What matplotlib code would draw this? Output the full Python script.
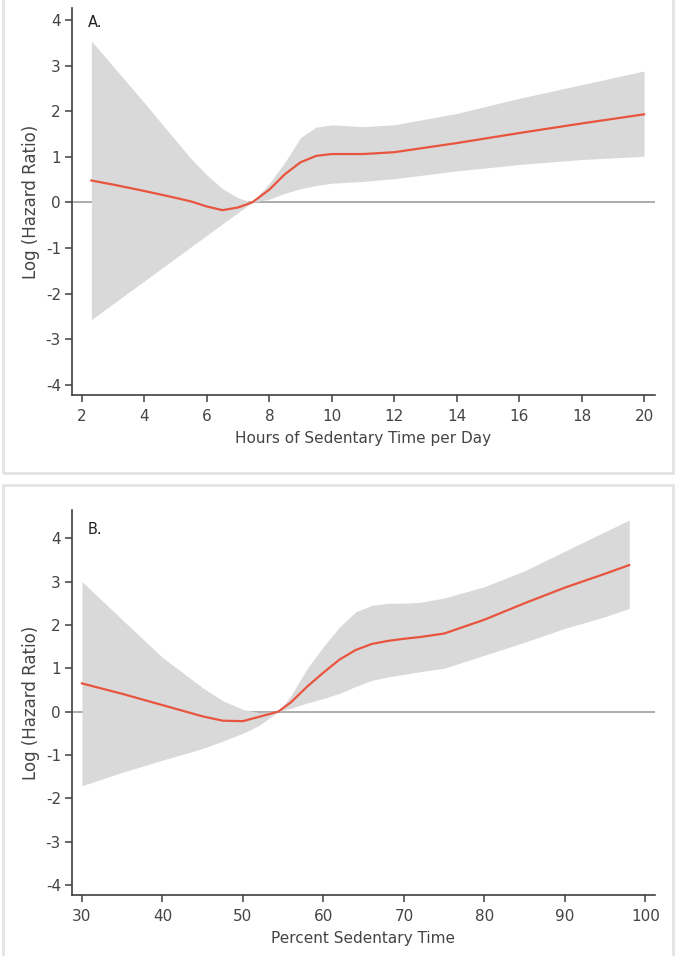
import matplotlib
matplotlib.use("Agg")
import matplotlib.pyplot as plt
from matplotlib.patches import Rectangle

plt.rcParams['axes.unicode_minus'] = False

# panel A: hours of sedentary time per day
hours = [2.3, 3, 4, 5, 5.5, 6, 6.5, 7, 7.45, 8, 8.5, 9, 9.5, 10, 11, 12, 14, 16, 18, 20]
hours_est = [0.48, 0.39, 0.25, 0.10, 0.02, -0.09, -0.17, -0.11, 0.0, 0.28, 0.62, 0.88,
             1.02, 1.06, 1.06, 1.10, 1.30, 1.52, 1.73, 1.93]
hours_hi = [3.54, 2.98, 2.18, 1.36, 0.95, 0.60, 0.30, 0.10, 0.0, 0.42, 0.88, 1.42,
            1.65, 1.70, 1.66, 1.70, 1.95, 2.28, 2.58, 2.88]
hours_lo = [-2.57, -2.22, -1.72, -1.22, -0.97, -0.72, -0.47, -0.22, 0.0, 0.07, 0.20, 0.30,
            0.37, 0.42, 0.46, 0.52, 0.69, 0.83, 0.94, 1.01]

# panel B: percent sedentary time
pct = [30, 35, 40, 45, 47.5, 50, 52, 54.4, 56, 58, 60, 62, 64, 66, 68, 70, 72, 75, 80, 85, 90, 95, 98]
pct_est = [0.65, 0.41, 0.15, -0.11, -0.21, -0.22, -0.12, 0.0, 0.22, 0.58, 0.90, 1.20, 1.42,
           1.56, 1.63, 1.68, 1.72, 1.80, 2.12, 2.50, 2.86, 3.18, 3.38]
pct_hi = [3.0, 2.12, 1.25, 0.55, 0.25, 0.05, -0.02, 0.0, 0.38, 1.0, 1.5, 1.95, 2.3,
          2.45, 2.5, 2.5, 2.52, 2.62, 2.88, 3.25, 3.7, 4.15, 4.42]
pct_lo = [-1.71, -1.4, -1.12, -0.85, -0.68, -0.5, -0.32, 0.0, 0.08, 0.2, 0.3, 0.42, 0.58,
          0.72, 0.8, 0.86, 0.92, 1.0, 1.3, 1.6, 1.92, 2.19, 2.38]

y_ticks = [-4, -3, -2, -1, 0, 1, 2, 3, 4]

text_col = '#444444'
axis_col = '#404040'
band_col = '#d9d9d9'
line_col = '#e8553f'
zero_col = '#a6a6a6'

W, H = 679, 956
fig = plt.figure(figsize=(W / 100, H / 100), dpi=100)

# light frames round each panel
for (x0, y0, x1, y1) in [(3, -5, 673, 473), (3, 485, 673, 965)]:
    fig.patches.append(Rectangle((x0 / W, 1 - y1 / H), (x1 - x0) / W, (y1 - y0) / H,
                                 transform=fig.transFigure, fill=False,
                                 edgecolor='#e4e4e4', lw=2))


def panel(rect, x, est, lo, hi, xlim, ylim, xticks, xlabel, tag, tag_pos):
    ax = fig.add_axes(rect)
    ax.axhline(0, color=zero_col, lw=1.3, zorder=1)
    ax.fill_between(x, lo, hi, color=band_col, lw=0, zorder=2)
    ax.plot(x, est, color=line_col, lw=1.6, zorder=3)
    ax.set_xlim(*xlim)
    ax.set_ylim(*ylim)
    ax.set_xticks(xticks)
    ax.set_yticks(y_ticks)
    for s in ['top', 'right']:
        ax.spines[s].set_visible(False)
    for s in ['left', 'bottom']:
        ax.spines[s].set_color(axis_col)
        ax.spines[s].set_linewidth(1.2)
    ax.tick_params(colors=axis_col, labelcolor=text_col, labelsize=11, length=5, width=1.1, pad=3)
    ax.tick_params(axis='x', pad=5)
    ax.set_xlabel(xlabel, color=text_col, fontsize=11, labelpad=5)
    ax.set_ylabel('Log (Hazard Ratio)', color=text_col, fontsize=12, labelpad=4)
    ax.text(tag_pos[0], tag_pos[1], tag, color='#222222', fontsize=10.5, va='center', ha='left')
    return ax


panel([72 / W, 1 - 395 / H, 583 / W, 387 / H], hours, hours_est, hours_lo, hours_hi,
      (1.68, 20.35), (-4.22, 4.26), list(range(2, 21, 2)),
      'Hours of Sedentary Time per Day', 'A.', (2.2, 3.95))

panel([72 / W, 1 - 895 / H, 583 / W, 385 / H], pct, pct_est, pct_lo, pct_hi,
      (28.76, 101.2), (-4.23, 4.65), list(range(30, 101, 10)),
      'Percent Sedentary Time', 'B.', (30.75, 4.2))

fig.savefig('out.png', dpi=100, facecolor='white')
